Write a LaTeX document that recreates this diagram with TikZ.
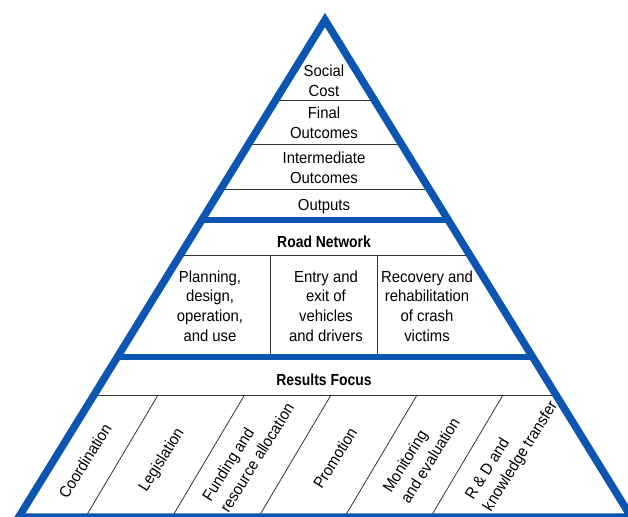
\documentclass[tikz,border=0pt]{standalone}
\usepackage{fontspec}
\setmainfont{Liberation Sans}[FakeStretch=0.93]
\newfontfamily\boldfam{Liberation Sans}[FakeStretch=0.87]
\newfontfamily\widefont{Liberation Sans}[FakeStretch=0.93]
\definecolor{pyrblue}{RGB}{12,86,178}
\begin{document}
\begin{tikzpicture}[x=1pt,y=-1pt,
  thinrule/.style={draw=black!80, line width=0.8pt},
  blueband/.style={draw=pyrblue, line width=5.5pt},
  blueframe/.style={draw=pyrblue, line width=7.5pt, line join=miter},
  lbl/.style={font=\fontsize{16}{19.7}\selectfont, align=center, inner sep=0pt},
  boldlbl/.style={font=\boldfam\fontsize{16}{19.7}\selectfont\bfseries, inner sep=0pt, anchor=base},
  baselbl/.style={font=\fontsize{16}{19.7}\selectfont, inner sep=0pt, anchor=base},
  rotlbl/.style={font=\widefont\fontsize{16}{21}\selectfont, align=left, inner sep=0pt, rotate=58}]
\useasboundingbox (0,0) rectangle (628,516);
\fill[white] (0,0) rectangle (628,516);

% thin rules in the top part
\draw[thinrule] (275.7,100) -- (374.3,100);
\draw[thinrule] (248.6,144) -- (401.4,144);
\draw[thinrule] (220.9,189) -- (429.1,189);
% road network
\draw[thinrule] (180.2,255) -- (469.8,255);
\draw[thinrule] (270,255) -- (270,357);
\draw[thinrule] (377,255) -- (377,357);
% results focus
\draw[thinrule] (94,395) -- (556,395);
\foreach \t in {158,244.5,331,417,503}
  \draw[thinrule] (\t,395) -- (\t-72.4,517);

% blue bands and frame
\draw[blueband] (201.8,220) -- (448.2,220);
\draw[blueband] (117.4,357) -- (532.6,357);
\draw[blueframe] (325,20) -- (18.8,517) -- (631.2,517) -- cycle;

% texts
\node[lbl] (social) at (324,81) {Social\\Cost};
\node[lbl] (final) at (324,122.5) {Final\\Outcomes};
\node[lbl] (inter) at (324,167.5) {Intermediate\\Outcomes};
\node[baselbl] (outputs) at (324,210) {Outputs};
\node[boldlbl] (road) at (324,247) {Road Network};
\node[lbl] (plan) at (210,306) {Planning,\\design,\\operation,\\and use};
\node[lbl] (entry) at (326,306) {Entry and\\exit of\\vehicles\\and drivers};
\node[lbl] (recov) at (427,306) {Recovery and\\rehabilitation\\of crash\\victims};
\node[boldlbl] (results) at (324,385) {Results Focus};

\node[rotlbl] (coord) at (85,461) {Coordination};
\node[rotlbl] (legis) at (162,460) {Legislation};
\node[rotlbl] (fund) at (248,452) {Funding and\\resource allocation};
\node[rotlbl] (promo) at (335,458) {Promotion};
\node[rotlbl] (monit) at (421,455) {Monitoring\\and evaluation};
\node[rotlbl] (rnd) at (512,451) {R \& D and\\knowledge transfer};
\end{tikzpicture}
\end{document}
